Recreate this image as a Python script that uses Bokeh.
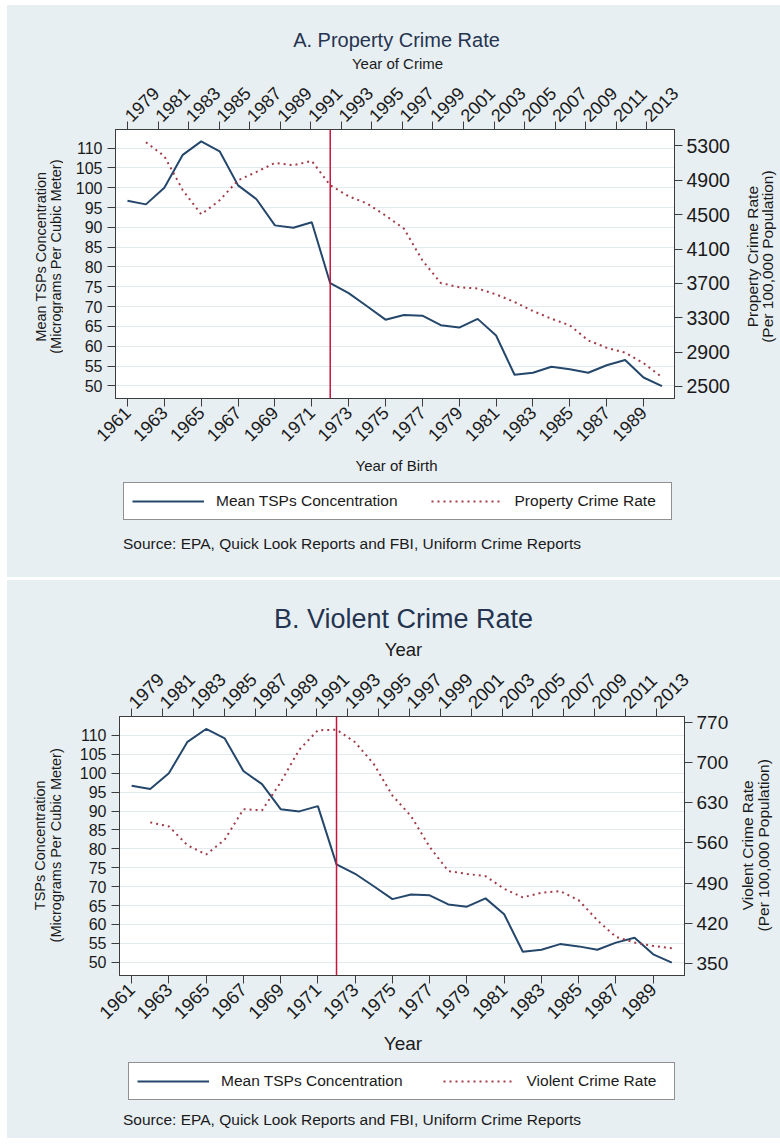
import math

from bokeh.core.properties import value
from bokeh.embed import file_html
from bokeh.layouts import column, row
from bokeh.models import (FixedTicker, Legend, LegendItem, LinearAxis, Range1d,
                          Spacer, Span)
from bokeh.plotting import figure
from bokeh.resources import INLINE

# ---- data -------------------------------------------------------------
birth_years = list(range(1961, 1991))
tsp_mean = [96.7, 95.8, 100.0, 108.3, 111.7, 109.2, 100.6, 97.1, 90.5, 89.9,
            91.3, 75.9, 73.4, 70.1, 66.7, 67.9, 67.7, 65.3, 64.7, 66.9,
            62.7, 52.8, 53.3, 54.8, 54.2, 53.3, 55.2, 56.5, 52.1, 49.9]

crime_birth_years = list(range(1962, 1991))
property_rate = [5343, 5180, 4784, 4504, 4667, 4900, 4997, 5102, 5075, 5125,
                 4842, 4714, 4629, 4490, 4337, 3968, 3704, 3655, 3640, 3572,
                 3483, 3378, 3289, 3211, 3036, 2951, 2893, 2772, 2608]
violent_rate = [596, 589, 556, 540, 566, 619, 617, 666, 723, 757,
                758, 736, 698, 643, 607, 553, 511, 506, 502, 480,
                465, 473, 476, 460, 425, 396, 386, 380, 376]

birth_ticks = list(range(1961, 1990, 2))
crime_year_ticks = list(range(1979, 2014, 2))
tsp_ticks = list(range(50, 111, 5))
property_ticks = list(range(2500, 5301, 400))
violent_ticks = list(range(350, 771, 70))
cutoff_year = 1972

SOURCE = "Source: EPA, Quick Look Reports and FBI, Uniform Crime Reports"

# ---- style ------------------------------------------------------------
FONT = "Liberation Sans"
PANEL_BG = "#e8eff3"
NAVY = "#24476b"
MAROON = "#a23c48"
CUTOFF = "#c8143c"
FRAME = "#3c3c3c"
TEXT = "#1a1a1a"
TITLE = "#25344f"
TSP_STYLE = dict(line_color=NAVY, line_width=2)
CRIME_STYLE = dict(line_color=MAROON, line_width=2, line_dash="2 4")


def style_axis(ax, size, standoff):
    ax.axis_line_color = FRAME
    ax.major_tick_line_color = FRAME
    ax.major_tick_out = 8
    ax.major_tick_in = 0
    ax.minor_tick_line_color = None
    ax.major_label_text_font = FONT
    ax.major_label_text_font_size = size
    ax.major_label_text_color = TEXT
    ax.major_label_standoff = standoff


def blank(width, height):
    """A background-coloured canvas whose data units are pixels."""
    f = figure(width=width, height=height, title=None,
               x_range=Range1d(0, width), y_range=Range1d(0, height),
               x_axis_location=None, y_axis_location=None,
               output_backend="svg", toolbar_location=None, min_border=0,
               outline_line_color=None, background_fill_color=PANEL_BG,
               border_fill_color=PANEL_BG)
    f.grid.visible = False
    return f


def put_text(f, x, y, text, size, color=TEXT, align="center", angle=0.0):
    f.text(x=[x], y=[y], text=[text], text_font=value(FONT),
           text_font_size=value(size), text_color=color, text_align=align,
           text_baseline="middle", angle=angle)


def main_plot(cfg):
    w, h = cfg["size"]
    bl, bt, bb = cfg["borders"]
    fw = cfg["frame_w"]
    p = figure(width=w, height=h, title=None,
               x_range=Range1d(1960.35, 1990.68),
               y_range=Range1d(*cfg["tsp_range"]),
               output_backend="svg", toolbar_location=None,
               min_border_left=bl, min_border_right=w - bl - fw,
               min_border_top=bt, min_border_bottom=bb,
               background_fill_color="white", border_fill_color=PANEL_BG,
               outline_line_color=FRAME, outline_line_width=1)

    p.extra_x_ranges = {"crime_year": Range1d(1978.21, 2014.82)}
    p.extra_y_ranges = {"crime": Range1d(*cfg["crime_range"])}

    bottom = p.below[0]
    bottom.ticker = FixedTicker(ticks=birth_ticks)
    bottom.major_label_orientation = math.pi / 4
    style_axis(bottom, cfg["xtick_size"], 3)

    left = p.left[0]
    left.ticker = FixedTicker(ticks=tsp_ticks)
    style_axis(left, "16px", 5)

    top = LinearAxis(x_range_name="crime_year",
                     ticker=FixedTicker(ticks=crime_year_ticks),
                     major_label_orientation=math.pi / 4)
    style_axis(top, cfg["xtick_size"], 3)
    p.add_layout(top, "above")

    right = LinearAxis(y_range_name="crime",
                       ticker=FixedTicker(ticks=cfg["crime_ticks"]))
    style_axis(right, cfg["rtick_size"], 4)
    p.add_layout(right, "right")

    p.xgrid.visible = False
    p.ygrid.ticker = FixedTicker(ticks=tsp_ticks)
    p.ygrid.grid_line_color = "#e3eaee"
    p.ygrid.grid_line_width = 1

    p.line(birth_years, tsp_mean, **TSP_STYLE)
    p.line(crime_birth_years, cfg["crime"], y_range_name="crime", **CRIME_STYLE)
    p.add_layout(Span(location=cutoff_year, dimension="height",
                      line_color=CUTOFF, line_width=1.5))
    return p


def panel(cfg):
    head = blank(773, cfg["head_h"])
    put_text(head, *cfg["title_xy"], cfg["title"], cfg["title_size"], TITLE)
    put_text(head, *cfg["top_lbl_xy"], cfg["top_lbl"], cfg["top_lbl_size"])

    main = main_plot(cfg)
    mh = cfg["size"][1]

    left = blank(cfg["left_w"], mh)
    for x, txt in zip(cfg["left_x"], cfg["left_lbl"]):
        put_text(left, x, cfg["side_y"], txt, "14.5px", angle=math.pi / 2)

    right = blank(cfg["right_w"], mh)
    for x, txt in zip(cfg["right_x"], cfg["right_lbl"]):
        put_text(right, x, cfg["side_y"], txt, "15.5px", angle=math.pi / 2)

    # footer: x-axis title, key and source note; the key's series are the
    # same data, which sits outside this strip's pixel-unit view
    foot = blank(773, cfg["foot_h"])
    put_text(foot, *cfg["bot_lbl_xy"], cfg["bot_lbl"], cfg["bot_lbl_size"])
    put_text(foot, *cfg["src_xy"], SOURCE, "15.5px", align="left")
    key_tsp = foot.line(birth_years, tsp_mean, **TSP_STYLE)
    key_crime = foot.line(crime_birth_years, cfg["crime"], **CRIME_STYLE)
    legend = Legend(items=[LegendItem(label="Mean TSPs Concentration", renderers=[key_tsp]),
                           LegendItem(label=cfg["crime_name"], renderers=[key_crime])],
                    orientation="horizontal", location=cfg["legend_xy"],
                    padding=8, spacing=cfg["legend_spacing"], margin=0,
                    glyph_width=72, glyph_height=20, label_height=20,
                    label_width=cfg["legend_label_w"], label_standoff=12,
                    label_text_font=FONT, label_text_font_size="15.5px",
                    label_text_color=TEXT,
                    border_line_color="#222222", border_line_width=1,
                    background_fill_color="white", background_fill_alpha=1.0)
    foot.add_layout(legend)

    return column(head, row(left, main, right, styles={"background-color": PANEL_BG}),
                  foot, styles={"background-color": PANEL_BG})


panel_a = panel(dict(
    head_h=67, foot_h=122, size=(669, 383), borders=(52, 57, 57), frame_w=559,
    left_w=56, right_w=48,
    tsp_range=(46.8, 114.7), crime_range=(2360, 5491), crime_ticks=property_ticks,
    crime=property_rate, crime_name="Property Crime Rate",
    xtick_size="18px", rtick_size="19.5px",
    title="A. Property Crime Rate", title_xy=(389, 33), title_size="20px",
    top_lbl="Year of Crime", top_lbl_xy=(390, 9), top_lbl_size="15px",
    bot_lbl="Year of Birth", bot_lbl_xy=(389, 112), bot_lbl_size="15px",
    side_y=202, left_x=(33, 48), right_x=(20, 35),
    left_lbl=("Mean TSPs Concentration", "(Micrograms Per Cubic Meter)"),
    right_lbl=("Property Crime Rate", "(Per 100,000 Population)"),
    src_xy=(115.5, 34), legend_xy=(116, 57), legend_spacing=33, legend_label_w=148,
))

panel_b = panel(dict(
    head_h=80, foot_h=106, size=(670, 372), borders=(53, 56, 57), frame_w=565,
    left_w=59, right_w=44,
    tsp_range=(46.5, 115.0), crime_range=(328.5, 781), crime_ticks=violent_ticks,
    crime=violent_rate, crime_name="Violent Crime Rate",
    xtick_size="18.5px", rtick_size="19px",
    title="B. Violent Crime Rate", title_xy=(396, 42), title_size="27px",
    top_lbl="Year", top_lbl_xy=(396, 11.5), top_lbl_size="18.5px",
    bot_lbl="Year", bot_lbl_xy=(395.5, 95.5), bot_lbl_size="19px",
    side_y=187, left_x=(32, 48), right_x=(11, 27),
    left_lbl=("TSPs Concentration", "(Micrograms Per Cubic Meter)"),
    right_lbl=("Violent Crime Rate", "(Per 100,000 Population)"),
    src_xy=(115.5, 18.7), legend_xy=(121, 38), legend_spacing=40, legend_label_w=139,
))

page = row(Spacer(width=7),
           column(Spacer(height=5), panel_a, Spacer(height=3), panel_b))

open("out.html", "w").write(file_html(page, INLINE))
